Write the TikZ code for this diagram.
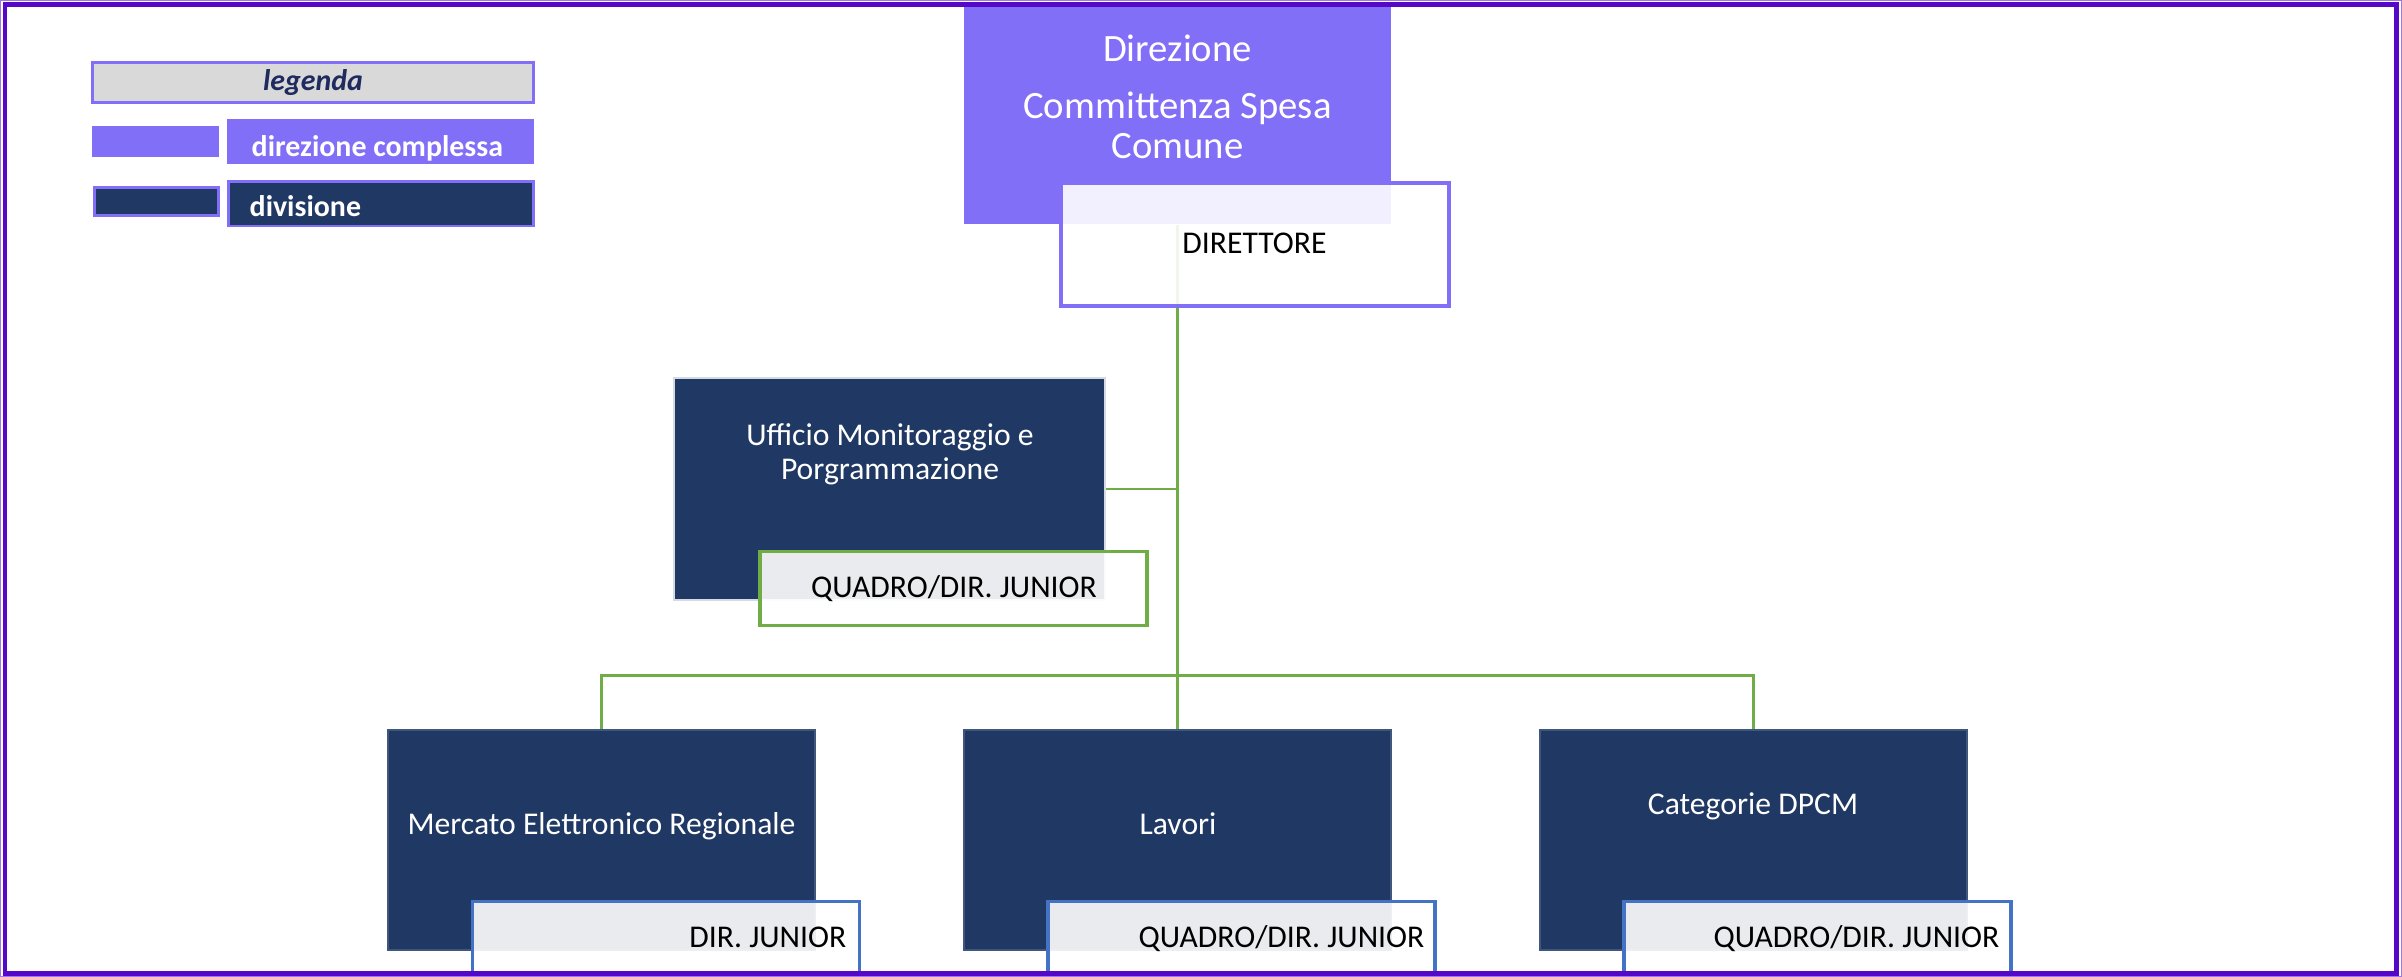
\documentclass[tikz,border=0pt]{standalone}
\usepackage{fontspec}
\setmainfont{Carlito}
\usetikzlibrary{backgrounds}
\definecolor{dcpurple}{HTML}{826FF7}
\definecolor{divnavy}{HTML}{203864}
\definecolor{linkgreen}{HTML}{70AD47}
\definecolor{roleblue}{HTML}{4472C4}
\definecolor{framevio}{HTML}{5508C8}
\definecolor{legnavy}{HTML}{1F2A5E}
\definecolor{legrey}{HTML}{D9D9D9}
\definecolor{uffgrey}{HTML}{D5DBE4}
\begin{document}
\begin{tikzpicture}[x=0.01cm, y=-0.01cm]
	\tikzset{
		dircomp/.style={fill=dcpurple, draw=none, inner sep=0, minimum width=4.27cm, minimum height=2.18cm},
		divbox/.style={fill=divnavy, draw=divnavy!85!white, line width=0.4pt, inner sep=0, minimum width=4.27cm, minimum height=2.2cm},
		rolebox/.style={fill=white, fill opacity=0.9, line width=1pt, inner sep=0, minimum width=3.87cm, minimum height=0.74cm},
		boxtext/.style={text=white, font=\fontsize{9}{9.7}\selectfont, align=center, anchor=base, inner sep=0},
		roletext/.style={font=\fontsize{9}{10}\selectfont, anchor=base, inner sep=0},
		legtext/.style={text=white, font=\fontsize{8.5}{9}\selectfont\bfseries, anchor=base west, inner sep=0},
		conn/.style={draw=linkgreen, line width=0.8pt}
	}
	\useasboundingbox (0,0) rectangle (2402,977);

	% legenda
	\node[fill=legrey, draw=dcpurple, line width=0.85pt, minimum width=4.40cm, minimum height=0.40cm] (leg) at (313,83) {};
	\node[text=legnavy, font=\fontsize{8.5}{9}\selectfont\bfseries\itshape, inner sep=0] (legt) at (leg.center) {legenda};
	\node[fill=dcpurple, inner sep=0, minimum width=1.27cm, minimum height=0.31cm] (swdc) at (155.5,141.5) {};
	\node[fill=dcpurple, inner sep=0, minimum width=3.07cm, minimum height=0.45cm] (labdc) at (380.5,141.5) {};
	\node[legtext] (labdct) at (251,157) {direzione complessa};
	\node[fill=divnavy, draw=dcpurple, line width=0.85pt, inner sep=0, minimum width=1.24cm, minimum height=0.28cm] (swdiv) at (156.5,202) {};
	\node[fill=divnavy, draw=dcpurple, line width=0.85pt, inner sep=0, minimum width=3.04cm, minimum height=0.44cm] (labdiv) at (381,204) {};
	\node[legtext] (labdivt) at (249,217) {divisione};

	% direzione
	\node[dircomp] (dir) at (1177.5,115) {};
	\node[boxtext, font=\fontsize{11}{11.5}\selectfont] (dirt) at (1177.5,159) {Direzione\\[4.7pt]Committenza Spesa\\Comune};
	\node[rolebox, draw=dcpurple] (dirr) at (1255,244.5) [minimum width=3.88cm, minimum height=1.23cm] {};
	\node[roletext] (dirrt) at (1254.5,254) {DIRETTORE};

	% ufficio
	\node[divbox, draw=uffgrey, minimum width=4.31cm, minimum height=2.22cm] (uff) at (889.5,489) {};
	\node[boxtext] (ufft) at (890,480) {Ufficio Monitoraggio e\\Porgrammazione};
	\node[rolebox, draw=linkgreen] (uffr) at (953.5,588.5) {};
	\node[roletext] (uffrt) at (954,598) {QUADRO/DIR. JUNIOR};

	% divisioni
	\node[divbox] (mer) at (601.5,840) {};
	\node[boxtext] (mert) at (601.5,835) {Mercato Elettronico Regionale};
	\node[rolebox, draw=roleblue] (merr) at (666,938.5) {};
	\node[roletext, anchor=base east] (merrt) at (847,948) {DIR. JUNIOR};

	\node[divbox] (lav) at (1177.5,840) {};
	\node[boxtext] (lavt) at (1178,835) {Lavori};
	\node[rolebox, draw=roleblue] (lavr) at (1241.5,938.5) {};
	\node[roletext, anchor=base east] (lavrt) at (1425,948) {QUADRO/DIR. JUNIOR};

	\node[divbox] (cat) at (1753.5,840) {};
	\node[boxtext] (catt) at (1753,815) {Categorie DPCM};
	\node[rolebox, draw=roleblue] (catr) at (1817.5,938.5) {};
	\node[roletext, anchor=base east] (catrt) at (2000,948) {QUADRO/DIR. JUNIOR};

	% collegamenti
	\begin{scope}[on background layer]
		\draw[conn] (dir.south) -- (lav.north);
		\draw[conn] (mer.north) -- ++(0,-54) -| (cat.north);
		\draw[conn] (uff.east) -- (uff.east -| dir.south);
	\end{scope}

	% cornice
	\draw[framevio!55, line width=0.3pt] (0.6,0.6) rectangle (2401.4,976.4);
	\draw[framevio, line width=1.4pt] (5,4.5) rectangle (2396.5,973.5);
\end{tikzpicture}
\end{document}
